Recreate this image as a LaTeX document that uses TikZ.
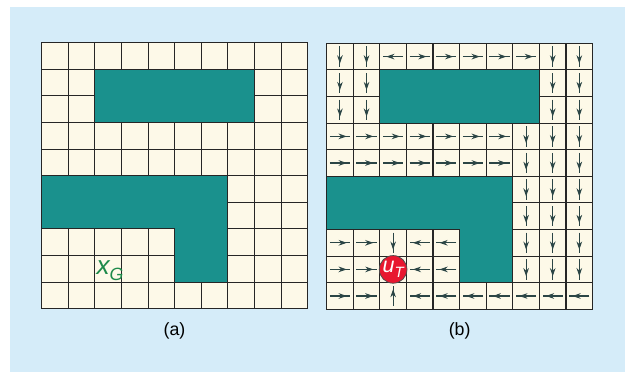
\documentclass[tikz,border=0pt]{standalone}
\usepackage{fontspec}
\setmainfont{Liberation Sans}
\usetikzlibrary{arrows.meta,decorations.markings}
\definecolor{bgblue}{HTML}{D5ECF9}
\definecolor{cream}{HTML}{FDF9E8}
\definecolor{obst}{HTML}{1A918D}
\definecolor{goalgreen}{HTML}{1E8A4A}
\definecolor{robotred}{HTML}{E8172F}
\definecolor{arrowcol}{HTML}{2B4545}
\tikzset{
    gridline/.style={black!85,line width=0.6pt},
    move/.style={arrowcol,line width=0.55pt,postaction={decorate},
        decoration={markings,mark=at position 0.84 with {\arrow{Stealth[length=4.4pt,width=3pt]}}}},
    caption/.style={font=\fontsize{9.5}{11}\selectfont}
}
\begin{document}
\begin{tikzpicture}[x=0.5cm,y=0.5cm]
    \useasboundingbox (0,0) rectangle (23.61,-13.98);
    \fill[white] (0,0) rectangle (23.61,-13.98);
    \fill[bgblue] (0.376,-0.263) rectangle (23.5,-13.98);
    \foreach \sx/\sy in {1.568/-1.605,12.28/-1.628} {
        \begin{scope}[shift={(\sx,\sy)}]
            \fill[cream] (0,0) rectangle (10,-10);
            \draw[gridline,step=0.5cm] (0,0) grid (10,-10);
            \filldraw[obst,draw=black!85,line width=0.6pt] (2,-1) rectangle (8,-3);
            \filldraw[obst,draw=black!85,line width=0.6pt] (0,-5) -- (7,-5) -- (7,-9) -- (5,-9) -- (5,-7) -- (0,-7) -- cycle;
            \draw[gridline,line width=0.8pt] (0,0) rectangle (10,-10);
        \end{scope}
    }
    \begin{scope}[shift={(1.568,-1.605)}]
        \node[goalgreen,anchor=base west,inner sep=0pt,font=\fontsize{14}{14}\selectfont] (goal) at (2.05,-8.72)
            {\textit{x\raisebox{-0.45ex}{\fontsize{9.5}{9.5}\selectfont G}}};
    \end{scope}
    \begin{scope}[shift={(12.28,-1.628)}]
        \foreach \i/\r in {3/0,4/0,5/0,6/0,7/0,0/7,1/7,0/8,1/8,0/9,1/9}
            \draw[move] (\i+0.12,-\r-0.5) -- (\i+0.88,-\r-0.5);
        \foreach \r in {3,4}
            \foreach \i in {0,...,6}
                \draw[move] (\i+0.12,-\r-0.5) -- (\i+0.88,-\r-0.5);
        \foreach \i/\r in {2/0,3/7,4/7,3/8,4/8,3/9,4/9,5/9,6/9,7/9,8/9,9/9}
            \draw[move] (\i+0.88,-\r-0.5) -- (\i+0.12,-\r-0.5);
        \foreach \r in {0,1,2}
            \foreach \i in {0,1,8,9}
                \draw[move] (\i+0.5,-\r-0.12) -- (\i+0.5,-\r-0.88);
        \foreach \r in {3,...,8}
            \foreach \i in {7,8,9}
                \draw[move] (\i+0.5,-\r-0.12) -- (\i+0.5,-\r-0.88);
        \draw[move] (2.5,-7.12) -- (2.5,-7.88);
        \draw[move] (2.5,-9.88) -- (2.5,-9.12);
        \node[circle,fill=robotred,draw=black!70,line width=0.4pt,minimum size=0.52cm,inner sep=0pt,
            text=white,font=\fontsize{11.5}{11.5}\selectfont] (uT) at (2.5,-8.5)
            {\textit{u\raisebox{-0.4ex}{\fontsize{8}{8}\selectfont T}}};
    \end{scope}
    \node[caption] (capA) at (6.56,-12.44) {(a)};
    \node[caption] (capB) at (17.28,-12.44) {(b)};
\end{tikzpicture}
\end{document}
